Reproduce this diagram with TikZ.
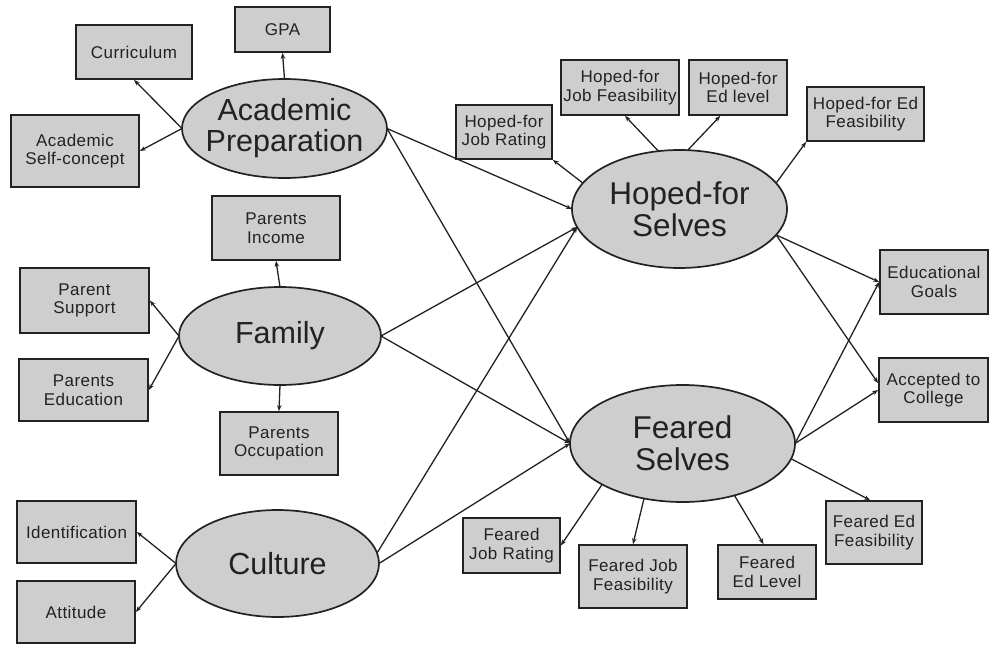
\documentclass[tikz,border=0pt]{standalone}
\usepackage{fontspec}
\setmainfont{Liberation Sans}
\newfontfamily\boxfont[LetterSpace=2.5]{Liberation Sans}
\usetikzlibrary{shapes.geometric,arrows.meta}
\definecolor{fillg}{RGB}{206,206,206}
\definecolor{inkc}{RGB}{34,34,34}
\tikzset{
  ind/.style={draw=inkc, line width=1.7pt, fill=fillg, align=center, inner xsep=1pt, inner ysep=2pt,
    font=\boxfont\fontsize{17}{18.5}\selectfont, text=inkc},
  lat/.style={ellipse, draw=inkc, line width=1.7pt, fill=fillg, align=center,
    inner xsep=-15pt, inner ysep=0pt, outer sep=0pt, font=\fontsize{30.5}{31}\selectfont, text=inkc},
  link/.style={draw=inkc, line width=1.3pt, -{Stealth[length=6pt,width=4.5pt]}}
}
\begin{document}
\begin{tikzpicture}[x=1pt,y=-1pt]
\useasboundingbox (0,0) rectangle (994,645);
% latent variables
\node[lat, minimum width=205, minimum height=99] (AP) at (284.5,128.5) {Academic\\Preparation};
\node[lat, minimum width=202, minimum height=98] (FAM) at (280,336) {Family};
\node[lat, minimum width=203, minimum height=107] (CUL) at (277.5,563.5) {Culture};
\node[lat, minimum width=215, minimum height=118, font=\fontsize{31.5}{32}\selectfont] (HS) at (679.5,209) {Hoped-for\\Selves};
\node[lat, minimum width=225, minimum height=117, font=\fontsize{31.5}{32}\selectfont] (FS) at (682.5,443.5) {Feared\\Selves};
% indicators
\node[ind, minimum width=95, minimum height=45] (gpa) at (282.5,29.5) {GPA};
\node[ind, minimum width=116, minimum height=54] (cur) at (134,52) {Curriculum};
\node[ind, minimum width=128, minimum height=72] (asc) at (75,151) {Academic\\Self-concept};
\node[ind, minimum width=128, minimum height=64] (pinc) at (276,228) {Parents\\Income};
\node[ind, minimum width=129, minimum height=65] (psup) at (84.5,300.5) {Parent\\Support};
\node[ind, minimum width=129, minimum height=62] (pedu) at (83.5,390) {Parents\\Education};
\node[ind, minimum width=118, minimum height=63] (pocc) at (279,443.5) {Parents\\Occupation};
\node[ind, minimum width=119, minimum height=62] (ident) at (76.5,532) {Identification};
\node[ind, minimum width=118, minimum height=62] (att) at (76,612) {Attitude};
\node[ind, minimum width=96, minimum height=54] (hjr) at (504,132) {Hoped-for\\Job Rating};
\node[ind, minimum width=118, minimum height=55] (hjf) at (620,87.5) {Hoped-for\\Job Feasibility};
\node[ind, minimum width=98, minimum height=55] (hel) at (738,87.5) {Hoped-for\\Ed level};
\node[ind, minimum width=117, minimum height=54] (hef) at (865.5,114) {Hoped-for Ed\\Feasibility};
\node[ind, minimum width=108, minimum height=64] (eg) at (934,282) {Educational\\Goals};
\node[ind, minimum width=109, minimum height=64] (acc) at (933.5,390) {Accepted to\\College};
\node[ind, minimum width=97, minimum height=55] (fjr) at (511.5,545.5) {Feared\\Job Rating};
\node[ind, minimum width=108, minimum height=63] (fjf) at (633,576.5) {Feared Job\\Feasibility};
\node[ind, minimum width=98, minimum height=54] (fel) at (767,572) {Feared\\Ed Level};
\node[ind, minimum width=96, minimum height=63] (fef) at (874,532.5) {Feared Ed\\Feasibility};
% academic preparation
\draw[link] (AP.west) -- (cur.south);
\draw[link] (AP.north) -- (gpa.south);
\draw[link] (AP.west) -- (asc.east);
\draw[link] (AP.east) -- (HS.west);
\draw[link] (AP.east) -- (FS.west);
% family
\draw[link] (FAM.north) -- (pinc.south);
\draw[link] (FAM.west) -- (psup.east);
\draw[link] (FAM.west) -- (pedu.east);
\draw[link] (FAM.south) -- (pocc.north);
\draw[link] (FAM.east) -- (HS.190);
\draw[link] (FAM.east) -- (FS.west);
% culture
\draw[link] (CUL.west) -- (ident.east);
\draw[link] (CUL.west) -- (att.east);
\draw[link] (CUL.6) -- (HS.190);
\draw[link] (CUL.east) -- (FS.west);
% hoped-for selves
\draw[link] (HS.165) -- (hjr.south east);
\draw[link] (HS.110) -- (hjf.-80);
\draw[link] (HS.82) -- (hel.-122);
\draw[link] (HS.15) -- (hef.south west);
\draw[link] (HS.-15) -- (eg.west);
\draw[link] (HS.-15) -- (acc.173);
% feared selves
\draw[link] (FS.east) -- (eg.west);
\draw[link] (FS.east) -- (acc.west);
\draw[link] (FS.207) -- (fjr.east);
\draw[link] (FS.235) -- (fjf.north);
\draw[link] (FS.-45) -- (fel.97);
\draw[link] (FS.-8) -- (fef.97);
\end{tikzpicture}
\end{document}
